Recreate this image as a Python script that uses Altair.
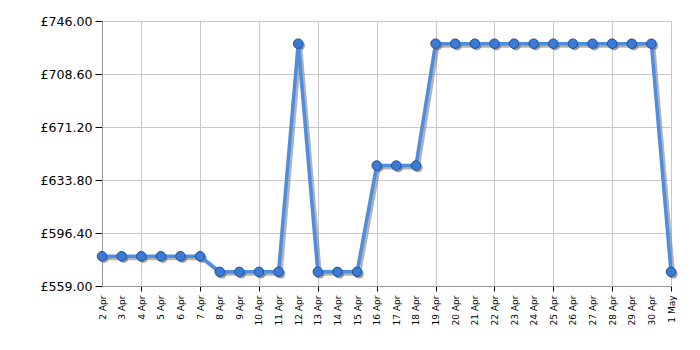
import altair as alt
import pandas as pd

days = ["2 Apr", "3 Apr", "4 Apr", "5 Apr", "6 Apr", "7 Apr", "8 Apr", "9 Apr",
        "10 Apr", "11 Apr", "12 Apr", "13 Apr", "14 Apr", "15 Apr", "16 Apr",
        "17 Apr", "18 Apr", "19 Apr", "20 Apr", "21 Apr", "22 Apr", "23 Apr",
        "24 Apr", "25 Apr", "26 Apr", "27 Apr", "28 Apr", "29 Apr", "30 Apr", "1 May"]
prices = [579.99, 579.99, 579.99, 579.99, 579.99, 579.99, 568.99, 568.99,
          568.99, 568.99, 729.99, 568.99, 568.99, 568.99, 643.99,
          643.99, 643.99, 729.99, 729.99, 729.99, 729.99, 729.99,
          729.99, 729.99, 729.99, 729.99, 729.99, 729.99, 729.99, 568.99]
y_ticks = [559.0, 596.4, 633.8, 671.2, 708.6, 746.0]

df = pd.DataFrame({"i": list(range(len(days))), "day": days, "price": prices})

label_arr = "[" + ",".join("'" + d + "'" for d in days) + "]"

x_enc = alt.X(
    "i:Q",
    scale=alt.Scale(domain=[0, len(days) - 1], nice=False, zero=False),
    axis=alt.Axis(
        title=None,
        values=list(range(len(days))),
        labelExpr=label_arr + "[datum.value]",
        labelAngle=-90,
        labelFont="DejaVu Sans",
        labelFontSize=9,
        labelColor="#000000",
        labelPadding=4,
        labelOverlap=False,
        labelFlush=False,
        tickSize=5,
        tickColor="#000000",
        tickOpacity={"condition": {"test": "datum.value % 3 == 2", "value": 1}, "value": 0},
        gridColor="#c8c8c8",
        gridOpacity={"condition": {"test": "datum.value % 3 == 2", "value": 1}, "value": 0},
        domainColor="#999999",
    ),
)
y_enc = alt.Y(
    "price:Q",
    scale=alt.Scale(domain=[559, 746], nice=False, zero=False),
    axis=alt.Axis(
        title=None,
        values=y_ticks,
        labelExpr="'£' + format(datum.value, '.2f')",
        labelFont="DejaVu Sans",
        labelFontSize=12.6,
        labelColor="#000000",
        labelPadding=3,
        tickSize=7,
        tickColor="#000000",
        gridColor="#c8c8c8",
        domainColor="#999999",
    ),
)

base = alt.Chart(df).encode(x=x_enc, y=y_enc)

shadow_line = base.mark_line(color="#808080", strokeWidth=4, opacity=0.6, xOffset=2, yOffset=2)
shadow_pts = base.mark_circle(color="#606060", size=90, opacity=0.6, xOffset=2, yOffset=2)
main_line = base.mark_line(color="#4f8de0", strokeWidth=3.5)
main_pts = base.mark_point(filled=True, fill="#3c7bd4", stroke="#1d4f9c", strokeWidth=1, size=90, opacity=1, shape="circle")

chart = alt.layer(shadow_line, shadow_pts, main_line, main_pts).properties(
    width=569, height=265,
    autosize=alt.AutoSizeParams(type="none"),
    padding={"left": 102, "top": 21, "right": 29, "bottom": 64},
).configure_view(stroke="#999999").configure(background="white")

chart.save("out.html", embed_options={"renderer": "svg", "actions": False})
